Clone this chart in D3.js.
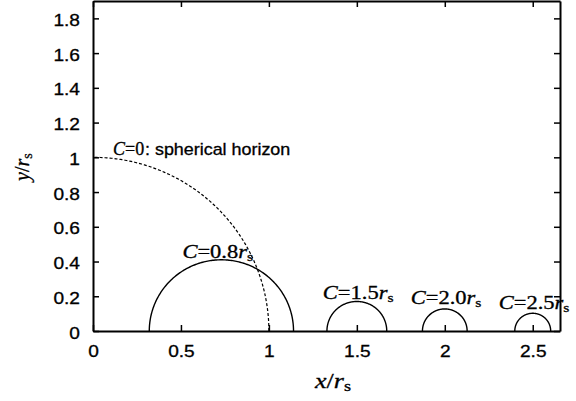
<!DOCTYPE html>
<html>
<head>
<meta charset="utf-8">
<script src="https://cdn.jsdelivr.net/npm/d3@7"></script>
<style>
  body { margin: 0; background: #fff; }
  svg { display: block; }
  text { stroke: #000; stroke-width: 0.3; }
</style>
</head>
<body>
<div id="chart"></div>
<script>
// horizon (C = 0) and the cross sections for C > 0, in units of r_s
const horizonRadius = 1.0;
const cLabels = ["0.8", "1.5", "2.0", "2.5"];
const centers = [0.73, 1.5, 2.0, 2.5];
const radii = [0.41, 0.17, 0.127, 0.102];
const xTicks = [0, 0.5, 1, 1.5, 2, 2.5];
const yTicks = [0, 0.2, 0.4, 0.6, 0.8, 1, 1.2, 1.4, 1.6, 1.8];

const W = 576, H = 401;
const pLeft = 93, pRight = 560, pTop = 1, pBottom = 331;
const sansX = 1.16, serifX = 1.25;
const sans = '"Liberation Sans", Arial, sans-serif';
const serif = '"Liberation Serif", "Times New Roman", serif';

const svg = d3.select('#chart').append('svg')
    .attr('width', W)
    .attr('height', H);

const x = d3.scaleLinear().domain([0, 2.655]).range([pLeft, pRight]);
const y = d3.scaleLinear().domain([0, 1.9]).range([pBottom, pTop]);

// axes, ticks pointing inward on all four sides
const fmt = d => d === 0 ? '0' : String(d);
const gx = svg.append('g').attr('transform', 'translate(0,' + pBottom + ')')
    .call(d3.axisBottom(x).tickValues(xTicks).tickFormat(fmt).tickSizeInner(-6).tickSizeOuter(0));
const gy = svg.append('g').attr('transform', 'translate(' + pLeft + ',0)')
    .call(d3.axisLeft(y).tickValues(yTicks).tickFormat(fmt).tickSizeInner(-6).tickSizeOuter(0));
const gt = svg.append('g').attr('transform', 'translate(0,' + pTop + ')')
    .call(d3.axisTop(x).tickValues(xTicks).tickFormat('').tickSizeInner(-6).tickSizeOuter(0));
const gr = svg.append('g').attr('transform', 'translate(' + pRight + ',0)')
    .call(d3.axisRight(y).tickValues(yTicks).tickFormat('').tickSizeInner(-6).tickSizeOuter(0));

[gx, gy, gt, gr].forEach(g => {
    g.select('.domain').attr('stroke', '#000').attr('stroke-width', 2);
    g.selectAll('.tick line').attr('stroke', '#000').attr('stroke-width', 1.5);
});

gx.selectAll('.tick text')
    .attr('y', 0).attr('dy', 0)
    .attr('transform', 'translate(0,26) scale(' + sansX + ',1)')
    .attr('font-family', sans)
    .attr('font-size', 16.5)
    .attr('fill', '#000');
gy.selectAll('.tick text')
    .attr('x', 0).attr('dy', 0)
    .attr('transform', 'translate(-13,7) scale(' + sansX + ',1)')
    .attr('font-family', sans)
    .attr('font-size', 16.5)
    .attr('fill', '#000');

// curves
const ang = (a0, a1) => d3.range(0, 181).map(i => a0 + (a1 - a0) * i / 180);
const line = d3.line();

svg.append('path')
    .attr('d', line(ang(0, Math.PI / 2).map(t => [x(horizonRadius * Math.cos(t)), y(horizonRadius * Math.sin(t))])))
    .attr('fill', 'none')
    .attr('stroke', '#000')
    .attr('stroke-width', 1.2)
    .attr('stroke-dasharray', '3,2');

svg.selectAll('path.section')
    .data(centers)
    .join('path')
    .attr('class', 'section')
    .attr('d', (c, i) => line(ang(0, Math.PI).map(t => [x(c + radii[i] * Math.cos(t)), y(radii[i] * Math.sin(t))])))
    .attr('fill', 'none')
    .attr('stroke', '#000')
    .attr('stroke-width', 1.4);

// labels
const labelDx = [-39, -34, -34, -34];
const labelDy = [-2, -2, -5, -4];

svg.selectAll('text.clabel')
    .data(centers)
    .join('text')
    .attr('class', 'clabel')
    .attr('transform', (c, i) => 'translate(' + (x(c) + labelDx[i]) + ',' + (y(radii[i]) + labelDy[i]) + ') scale(' + serifX + ',1)')
    .attr('font-family', serif)
    .attr('font-size', 18)
    .attr('fill', '#000')
    .each(function (c, i) {
        const t = d3.select(this);
        t.append('tspan').attr('font-style', 'italic').text('C');
        t.append('tspan').text('=' + cLabels[i]);
        t.append('tspan').attr('font-style', 'italic').text('r');
        t.append('tspan').attr('font-size', 12.5).attr('dy', 3).text('s');
    });

const hl = svg.append('text')
    .attr('transform', 'translate(113,155)')
    .attr('font-family', serif)
    .attr('font-size', 18)
    .attr('fill', '#000');
hl.append('tspan').attr('font-style', 'italic').text('C');
hl.append('tspan').text('=0');
svg.append('text')
    .attr('transform', 'translate(145,155) scale(1.12,1)')
    .attr('font-family', sans)
    .attr('font-size', 16)
    .attr('fill', '#000')
    .text(': spherical horizon');

// axis titles
const xt = svg.append('text')
    .attr('transform', 'translate(315,388) scale(1.3,1)')
    .attr('font-family', serif)
    .attr('font-size', 20)
    .attr('fill', '#000');
xt.append('tspan').attr('font-style', 'italic').text('x');
xt.append('tspan').text('/');
xt.append('tspan').attr('font-style', 'italic').text('r');
xt.append('tspan').attr('font-size', 14).attr('dy', 3).text('s');

const yt = svg.append('text')
    .attr('transform', 'translate(29,181) rotate(-90)')
    .attr('font-family', serif)
    .attr('font-size', 20)
    .attr('fill', '#000');
yt.append('tspan').attr('font-style', 'italic').text('y');
yt.append('tspan').text('/');
yt.append('tspan').attr('font-style', 'italic').text('r');
yt.append('tspan').attr('font-size', 14).attr('dy', 3).text('s');
</script>
</body>
</html>
